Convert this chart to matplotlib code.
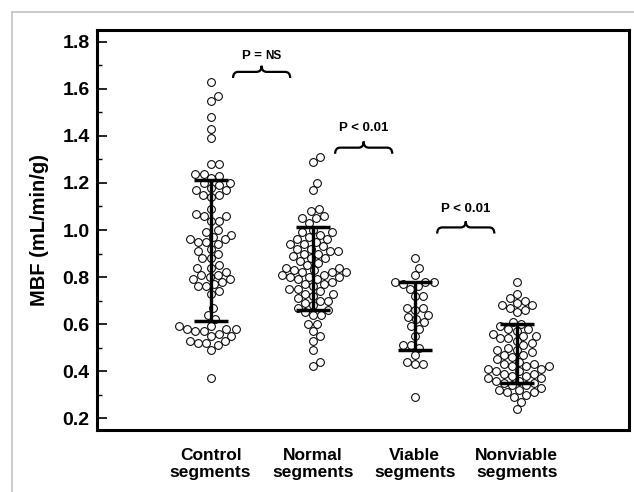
import matplotlib
matplotlib.use("Agg")
import matplotlib.pyplot as plt
import numpy as np
from matplotlib.path import Path
from matplotlib.patches import PathPatch
from matplotlib.lines import Line2D
from matplotlib.ticker import MultipleLocator

plt.rcParams['font.family'] = ['Liberation Sans', 'DejaVu Sans']
plt.rcParams['font.weight'] = 'bold'

groups = ["Control\nsegments", "Normal\nsegments", "Viable\nsegments", "Nonviable\nsegments"]

control = [1.63, 1.57, 1.55, 1.48, 1.43, 1.39,
           1.28, 1.28, 1.24, 1.24, 1.23, 1.22,
           1.20, 1.20, 1.19, 1.18, 1.17, 1.17, 1.15, 1.15, 1.14,
           1.09, 1.07, 1.06, 1.06, 1.04, 1.04,
           1.00, 0.99, 0.98, 0.97, 0.96, 0.96, 0.95, 0.95, 0.94,
           0.92, 0.91, 0.90, 0.88, 0.88, 0.85, 0.84, 0.84, 0.82, 0.81, 0.81,
           0.80, 0.79, 0.79, 0.78, 0.77, 0.76, 0.76, 0.74, 0.73,
           0.67, 0.64, 0.62,
           0.59, 0.59, 0.58, 0.58, 0.58, 0.57, 0.57, 0.56, 0.55, 0.55,
           0.53, 0.53, 0.52, 0.52, 0.51, 0.49, 0.37]

normal = [1.31, 1.29, 1.20, 1.17,
          1.09, 1.08, 1.06, 1.05, 1.05, 1.03,
          1.00, 0.99, 0.99, 0.98, 0.97, 0.96, 0.96, 0.95, 0.94, 0.94, 0.93,
          0.92, 0.92, 0.91, 0.91, 0.90, 0.90, 0.89, 0.88, 0.88, 0.87, 0.86, 0.85,
          0.84, 0.84, 0.83, 0.83, 0.82, 0.82, 0.82, 0.81, 0.81, 0.80, 0.80, 0.80,
          0.79, 0.79, 0.78, 0.77, 0.77, 0.76, 0.75, 0.75, 0.74, 0.73, 0.73,
          0.72, 0.71, 0.70, 0.70, 0.69, 0.68, 0.67,
          0.66, 0.65, 0.64, 0.64, 0.60, 0.60, 0.57, 0.55, 0.53, 0.49, 0.44, 0.42]

viable = [0.88, 0.84, 0.81, 0.78, 0.78, 0.78, 0.77, 0.76, 0.75, 0.72, 0.72,
          0.67, 0.67, 0.66, 0.64, 0.63, 0.62, 0.61, 0.59, 0.58, 0.55,
          0.51, 0.51, 0.50, 0.47, 0.44, 0.43, 0.43, 0.29]

nonviable = [0.78, 0.73, 0.71, 0.70, 0.69, 0.68, 0.68, 0.67, 0.66, 0.65,
             0.61, 0.60, 0.59, 0.58, 0.58, 0.57, 0.56, 0.55, 0.55, 0.54, 0.54,
             0.53, 0.52, 0.51, 0.50, 0.49, 0.49, 0.48, 0.47, 0.47, 0.46, 0.45, 0.44,
             0.43, 0.43, 0.42, 0.42, 0.42, 0.41, 0.41, 0.40, 0.40, 0.39, 0.39,
             0.38, 0.38, 0.37, 0.37, 0.36, 0.36, 0.35, 0.35, 0.34, 0.34, 0.33,
             0.32, 0.32, 0.31, 0.31, 0.30, 0.29, 0.27, 0.24]

means = [0.912, 0.836, 0.635, 0.475]
sds = [0.299, 0.178, 0.144, 0.127]

# (group a, group b, prefix, result) for each bracket
comparisons = [(1, 2, "P = ", "NS"), (2, 3, "P < ", "0.01"), (3, 4, "P < ", "0.01")]
brace_y = [1.672, 1.35, 1.011]
label_y = [1.74, 1.435, 1.088]


def beeswarm(y_px, d):
    order = np.argsort(y_px)
    xs = np.zeros(len(y_px))
    done = []
    for i in order:
        y = y_px[i]
        near = [j for j in done if abs(y_px[j] - y) < d]
        cands = [0.0]
        for j in near:
            dx = np.sqrt(d ** 2 - (y_px[j] - y) ** 2)
            cands += [xs[j] + dx, xs[j] - dx]
        cands.sort(key=abs)
        for c in cands:
            if all((c - xs[j]) ** 2 + (y - y_px[j]) ** 2 >= d ** 2 - 1e-6 for j in near):
                xs[i] = c
                break
        done.append(i)
    return xs


def draw_brace(ax, x0, x1, y, w, h):
    xm = (x0 + x1) / 2
    verts = [(x0, y - h), (x0, y), (x0 + w, y), (xm - w, y), (xm, y), (xm, y + h),
             (xm, y), (xm + w, y), (x1 - w, y), (x1, y), (x1, y - h)]
    codes = [Path.MOVETO, Path.CURVE3, Path.CURVE3, Path.LINETO, Path.CURVE3, Path.CURVE3,
             Path.CURVE3, Path.CURVE3, Path.LINETO, Path.CURVE3, Path.CURVE3]
    ax.add_patch(PathPatch(Path(verts, codes), fill=False, lw=1.6, color='black'))


fig = plt.figure(figsize=(6.34, 4.92), dpi=100)
ax = fig.add_axes([0.1525, 0.126, 0.8397, 0.813])
ax.set_xlim(-0.116, 5.10)
ax.set_ylim(0.15, 1.85)

data = [control, normal, viable, nonviable]
for k, vals in enumerate(data):
    xc = k + 1
    vals = np.array(vals)
    pts = ax.transData.transform(np.column_stack([np.full(len(vals), xc), vals]))
    off = beeswarm(pts[:, 1], 8.4)
    xs = ax.transData.inverted().transform(np.column_stack([pts[:, 0] + off, pts[:, 1]]))[:, 0]
    ax.plot(xs, vals, 'o', ms=5.6, mfc='white', mec='black', mew=0.75, zorder=3)

ax.errorbar(range(1, 5), means, yerr=sds, fmt='none', ecolor='black',
            elinewidth=2.4, capsize=12.5, capthick=2.5, zorder=5)

for (a, b, pre, res), by, ty in zip(comparisons, brace_y, label_y):
    draw_brace(ax, a + 0.22, b - 0.22, by, 0.05, 0.026)
    xm = (a + b) / 2
    if res == "NS":
        # "NS" is set a little smaller than the "P ="
        ax.annotate(pre, (xm, ty), xytext=(2.5, 0), textcoords='offset points',
                    ha='right', va='center', fontsize=9.5, fontweight='bold')
        ax.annotate(res, (xm, ty), xytext=(2.5, -0.3), textcoords='offset points',
                    ha='left', va='center', fontsize=8.5, fontweight='bold')
    else:
        ax.text(xm, ty, pre + res, ha='center', va='center', fontsize=9.5, fontweight='bold')

ax.set_xticks(range(1, 5))
ax.set_xticklabels(groups, fontsize=12.5, fontweight='bold', linespacing=1.15)
ax.tick_params(axis='x', length=0, pad=13)

ax.set_yticks(np.arange(0.2, 1.81, 0.2))
ax.yaxis.set_minor_locator(MultipleLocator(0.1))
ax.set_yticklabels([f"{v:.1f}" for v in np.arange(0.2, 1.81, 0.2)], fontsize=14, fontweight='bold')
ax.tick_params(axis='y', which='major', direction='in', length=7, width=1.2, pad=5)
ax.tick_params(axis='y', which='minor', direction='in', length=3.5, width=1.0)
ax.set_ylabel("MBF (mL/min/g)", fontsize=14.5, fontweight='bold', labelpad=10)

for s in ax.spines.values():
    s.set_linewidth(2.2)

# light gray frame around the figure
fig.add_artist(Line2D([12 / 634, 12 / 634], [0, 1 - 12 / 492], transform=fig.transFigure,
                      color='#c4c4c4', lw=1.2))
fig.add_artist(Line2D([12 / 634, 1], [1 - 12 / 492, 1 - 12 / 492], transform=fig.transFigure,
                      color='#c4c4c4', lw=1.2))

fig.savefig("out.png", dpi=100)
